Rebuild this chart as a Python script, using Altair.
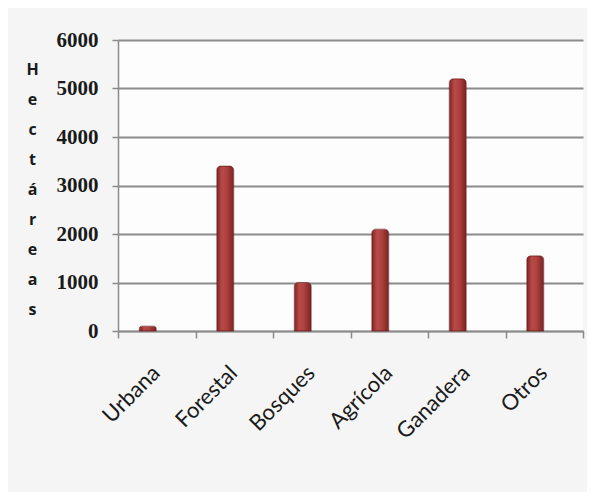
import altair as alt
import pandas as pd

categorias = ["Urbana", "Forestal", "Bosques", "Agrícola", "Ganadera", "Otros"]
hectareas = [100, 3400, 1000, 2100, 5200, 1550]
y_ticks = [0, 1000, 2000, 3000, 4000, 5000, 6000]
titulo_y = ["H", "e", "c", "t", "á", "r", "e", "a", "s"]

df = pd.DataFrame({"categoria": categorias, "hectareas": hectareas})

gradiente = {
    "gradient": "linear",
    "x1": 0, "y1": 0, "x2": 1, "y2": 0,
    "stops": [
        {"offset": 0.0, "color": "#7c2424"},
        {"offset": 0.3, "color": "#b84a48"},
        {"offset": 0.55, "color": "#b04441"},
        {"offset": 1.0, "color": "#7a2323"},
    ],
}

chart = (
    alt.Chart(df)
    .mark_bar(color=gradiente, size=17, xOffset=-9, cornerRadiusTopLeft=4,
              cornerRadiusTopRight=4, stroke="#6e1e1e", strokeWidth=0.6)
    .encode(
        x=alt.X(
            "categoria:N",
            sort=categorias,
            scale=alt.Scale(paddingInner=0, paddingOuter=0),
            axis=alt.Axis(
                title=None,
                labelAngle=-45,
                labelAlign="right",
                labelBaseline="top",
                labelPadding=24,
                labelOffset=-8,
                labelFont="Lato",
                labelFontSize=22,
                labelColor="#1a1a1a",
                tickBand="extent",
                tickSize=7,
                tickColor="#8a8a8a",
                tickWidth=1.5,
                domainColor="#8a8a8a",
                domainWidth=1.5,
                grid=False,
            ),
        ),
        y=alt.Y(
            "hectareas:Q",
            scale=alt.Scale(domain=[0, 6000], nice=False),
            axis=alt.Axis(
                values=y_ticks,
                format="d",
                title=titulo_y,
                titleAngle=0,
                titleX=-86,
                titleY=21,
                titleAlign="center",
                titleBaseline="top",
                titleLineHeight=30,
                titleFont="Open Sans",
                titleFontSize=16,
                titleFontWeight="bold",
                titleColor="#1a1a1a",
                labelFont="Liberation Serif",
                labelFontSize=21,
                labelFontWeight="bold",
                labelColor="#1a1a1a",
                labelPadding=14,
                tickSize=6,
                tickColor="#8a8a8a",
                tickWidth=1.5,
                domainColor="#8a8a8a",
                domainWidth=1.5,
                grid=True,
                gridColor="#8c8c8c",
                gridWidth=2,
            ),
        ),
    )
    .properties(
        width=465,
        height=291,
        autosize=alt.AutoSizeParams(type="none"),
        padding={"left": 110, "top": 32, "right": 4, "bottom": 161},
        background="#f5f5f5",
    )
    .configure_view(stroke=None, fill="#fdfdfd")
)

chart.save("out.html", embed_options={"renderer": "svg", "actions": False})
